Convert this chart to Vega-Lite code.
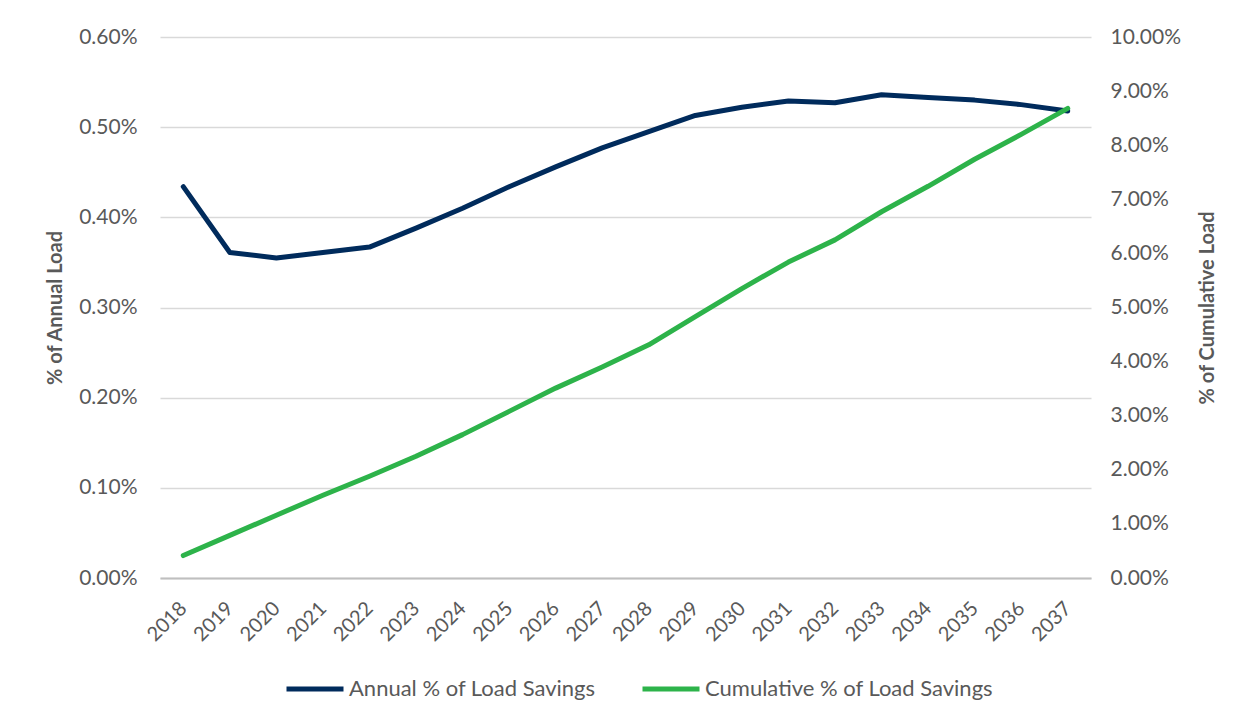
{
  "$schema": "https://vega.github.io/schema/vega-lite/v6.json",
  "autosize": "none",
  "width": 931,
  "height": 541,
  "padding": {"left": 160, "top": 37, "right": 154, "bottom": 145},
  "background": "white",
  "config": {
    "font": "Lato",
    "view": {"stroke": null},
    "axis": {"labelColor": "#595959", "titleColor": "#595959", "labelFont": "Lato", "titleFont": "Lato"},
    "legend": {"labelFont": "Lato"}
  },
  "data": {
    "values": [
      {"year": "2018", "series": "Annual % of Load Savings", "value": 0.00434},
      {"year": "2019", "series": "Annual % of Load Savings", "value": 0.00361},
      {"year": "2020", "series": "Annual % of Load Savings", "value": 0.00355},
      {"year": "2021", "series": "Annual % of Load Savings", "value": 0.00361},
      {"year": "2022", "series": "Annual % of Load Savings", "value": 0.00367},
      {"year": "2023", "series": "Annual % of Load Savings", "value": 0.00388},
      {"year": "2024", "series": "Annual % of Load Savings", "value": 0.00410},
      {"year": "2025", "series": "Annual % of Load Savings", "value": 0.00434},
      {"year": "2026", "series": "Annual % of Load Savings", "value": 0.00456},
      {"year": "2027", "series": "Annual % of Load Savings", "value": 0.00477},
      {"year": "2028", "series": "Annual % of Load Savings", "value": 0.00495},
      {"year": "2029", "series": "Annual % of Load Savings", "value": 0.00513},
      {"year": "2030", "series": "Annual % of Load Savings", "value": 0.00522},
      {"year": "2031", "series": "Annual % of Load Savings", "value": 0.00529},
      {"year": "2032", "series": "Annual % of Load Savings", "value": 0.00527},
      {"year": "2033", "series": "Annual % of Load Savings", "value": 0.00536},
      {"year": "2034", "series": "Annual % of Load Savings", "value": 0.00533},
      {"year": "2035", "series": "Annual % of Load Savings", "value": 0.00530},
      {"year": "2036", "series": "Annual % of Load Savings", "value": 0.00525},
      {"year": "2037", "series": "Annual % of Load Savings", "value": 0.00518},
      {"year": "2018", "series": "Cumulative % of Load Savings", "value": 0.00415},
      {"year": "2019", "series": "Cumulative % of Load Savings", "value": 0.00788},
      {"year": "2020", "series": "Cumulative % of Load Savings", "value": 0.0116},
      {"year": "2021", "series": "Cumulative % of Load Savings", "value": 0.0153},
      {"year": "2022", "series": "Cumulative % of Load Savings", "value": 0.0188},
      {"year": "2023", "series": "Cumulative % of Load Savings", "value": 0.0225},
      {"year": "2024", "series": "Cumulative % of Load Savings", "value": 0.0265},
      {"year": "2025", "series": "Cumulative % of Load Savings", "value": 0.0308},
      {"year": "2026", "series": "Cumulative % of Load Savings", "value": 0.0351},
      {"year": "2027", "series": "Cumulative % of Load Savings", "value": 0.0390},
      {"year": "2028", "series": "Cumulative % of Load Savings", "value": 0.0431},
      {"year": "2029", "series": "Cumulative % of Load Savings", "value": 0.0483},
      {"year": "2030", "series": "Cumulative % of Load Savings", "value": 0.0535},
      {"year": "2031", "series": "Cumulative % of Load Savings", "value": 0.0584},
      {"year": "2032", "series": "Cumulative % of Load Savings", "value": 0.0625},
      {"year": "2033", "series": "Cumulative % of Load Savings", "value": 0.0677},
      {"year": "2034", "series": "Cumulative % of Load Savings", "value": 0.0724},
      {"year": "2035", "series": "Cumulative % of Load Savings", "value": 0.0774},
      {"year": "2036", "series": "Cumulative % of Load Savings", "value": 0.0820},
      {"year": "2037", "series": "Cumulative % of Load Savings", "value": 0.0868}
    ]
  },
  "encoding": {
    "x": {
      "field": "year", "type": "ordinal",
      "scale": {"type": "point", "padding": 0.5},
      "axis": {
        "title": null, "labelAngle": -45, "labelAlign": "right", "labelBaseline": "middle",
        "labelFontSize": 20, "labelPadding": 27, "ticks": false,
        "domainColor": "#bfbfbf", "domainWidth": 2, "grid": false
      }
    },
    "color": {
      "field": "series", "type": "nominal",
      "scale": {"domain": ["Annual % of Load Savings", "Cumulative % of Load Savings"], "range": ["#002B5C", "#2DB34A"]},
      "legend": {
        "title": null, "orient": "none", "direction": "horizontal",
        "legendX": 124, "legendY": 621,
        "symbolType": "stroke", "symbolSize": 3249, "symbolStrokeWidth": 5,
        "labelFontSize": 22, "labelColor": "#595959", "labelOffset": 3, "labelLimit": 0,
        "columnPadding": 36
      }
    }
  },
  "layer": [
    {
      "transform": [{"filter": "datum.series === 'Annual % of Load Savings'"}],
      "mark": {"type": "line", "strokeWidth": 5, "strokeCap": "round", "strokeJoin": "round"},
      "encoding": {
        "y": {
          "field": "value", "type": "quantitative",
          "scale": {"domain": [0, 0.006], "nice": false},
          "axis": {
            "title": "% of Annual Load", "titleFontSize": 20, "titleFontWeight": "bold",
            "titlePadding": 13, "format": ".2%", "values": [0, 0.001, 0.002, 0.003, 0.004, 0.005, 0.006],
            "labelFontSize": 21, "labelPadding": 23, "ticks": false, "domain": false,
            "gridColor": "#d9d9d9", "gridWidth": 1.5
          }
        }
      }
    },
    {
      "transform": [{"filter": "datum.series === 'Cumulative % of Load Savings'"}],
      "mark": {"type": "line", "strokeWidth": 5, "strokeCap": "round", "strokeJoin": "round"},
      "encoding": {
        "y": {
          "field": "value", "type": "quantitative",
          "scale": {"domain": [0, 0.1], "nice": false},
          "axis": {
            "orient": "right",
            "title": "% of Cumulative Load", "titleFontSize": 20, "titleFontWeight": "bold",
            "titleAngle": 270, "titlePadding": 37, "format": ".2%",
            "values": [0, 0.01, 0.02, 0.03, 0.04, 0.05, 0.06, 0.07, 0.08, 0.09, 0.1],
            "labelFontSize": 21, "labelPadding": 19, "ticks": false, "domain": false, "grid": false
          }
        }
      }
    }
  ],
  "resolve": {"scale": {"y": "independent"}}
}
